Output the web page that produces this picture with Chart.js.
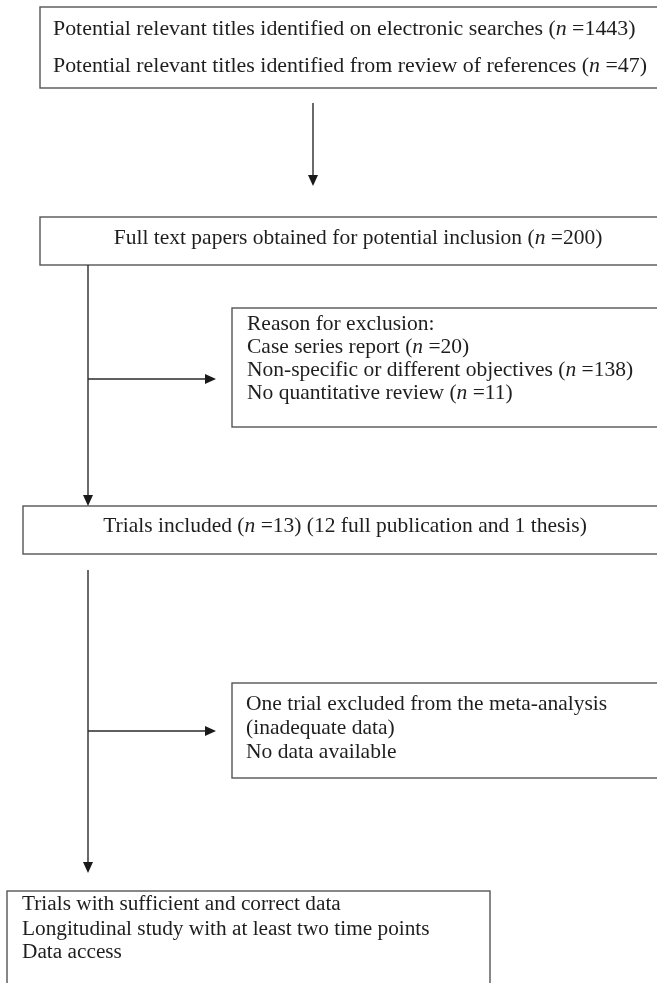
<!DOCTYPE html>
<html lang="en">
<head>
<meta charset="UTF-8">
<title>Flow diagram of trial selection</title>
<script src="https://cdn.jsdelivr.net/npm/chart.js"></script>
<style>
body { margin: 0; background: #fff; }
#wrap { width: 657px; height: 983px; }
</style>
</head>
<body>
<div id="wrap"><canvas id="chart" width="657" height="983"></canvas></div>
<script>
// counts and labels
const searchLabels = ['Potential relevant titles identified on electronic searches', 'Potential relevant titles identified from review of references'];
const searchCounts = [1443, 47];
const fullTextLabel = 'Full text papers obtained for potential inclusion';
const fullTextCount = 200;
const exclusionTitle = 'Reason for exclusion:';
const exclusionReasons = ['Case series report', 'Non-specific or different objectives', 'No quantitative review'];
const exclusionCounts = [20, 138, 11];
const includedLabel = 'Trials included';
const includedCount = 13;
const includedDetail = '(12 full publication and 1 thesis)';
const metaExcluded = ['One trial excluded from the meta-analysis', '(inadequate data)', 'No data available'];
const criteria = ['Trials with sufficient and correct data', 'Longitudinal study with at least two time points', 'Data access'];

// text line with an italic n: "label (n =123)"
function nLine(label, n, after) {
    return [{ t: label + ' (' }, { t: 'n', i: true }, { t: ' =' + n + ')' + (after || '') }];
}
function plain(s) { return [{ t: s }]; }

const boxTexts = [
    searchLabels.map((s, k) => nLine(s, searchCounts[k])),
    [nLine(fullTextLabel, fullTextCount)],
    [plain(exclusionTitle)].concat(exclusionReasons.map((s, k) => nLine(s, exclusionCounts[k]))),
    [nLine(includedLabel, includedCount, ' ' + includedDetail)],
    metaExcluded.map(plain),
    criteria.map(plain)
];

// geometry of the diagram (in figure units, mapped through the scales)
const boxLayout = [
    { x0: 40, y0: 7, x1: 672, y1: 88, align: 'left', tx: 53, ty: [35, 72], size: 21.9 },
    { x0: 40, y0: 217, x1: 676, y1: 265, align: 'center', tx: 358, ty: [244], size: 21.5 },
    { x0: 232, y0: 308, x1: 672, y1: 427, align: 'left', tx: 247, ty: [330, 353, 376, 399], size: 21.5 },
    { x0: 23, y0: 506, x1: 672, y1: 554, align: 'center', tx: 345, ty: [532], size: 21.5 },
    { x0: 232, y0: 683, x1: 672, y1: 778, align: 'left', tx: 246, ty: [710, 734, 758], size: 21.5 },
    { x0: 7, y0: 891, x1: 490, y1: 995, align: 'left', tx: 22, ty: [910, 935, 958], size: 21.3 }
];
const connectors = [
    { from: [313, 103], to: [313, 186], arrow: true },
    { from: [88, 265], to: [88, 506], arrow: true },
    { from: [88, 379], to: [216, 379], arrow: true },
    { from: [88, 570], to: [88, 873], arrow: true },
    { from: [88, 731], to: [216, 731], arrow: true }
];

const FONT = '"Liberation Serif", "Times New Roman", serif';

const flowPlugin = {
    id: 'flow',
    afterDraw(chart) {
        const ctx = chart.ctx;
        const xs = chart.scales.x, ys = chart.scales.y;
        const px = v => xs.getPixelForValue(v);
        const py = v => ys.getPixelForValue(v);
        ctx.save();

        // boxes
        ctx.strokeStyle = '#555';
        ctx.lineWidth = 1.4;
        boxLayout.forEach(b => {
            ctx.strokeRect(px(b.x0), py(b.y0), px(b.x1) - px(b.x0), py(b.y1) - py(b.y0));
        });

        // connectors
        ctx.strokeStyle = '#2a2a2a';
        ctx.fillStyle = '#1a1a1a';
        ctx.lineWidth = 1.4;
        connectors.forEach(c => {
            const x1 = px(c.from[0]), y1 = py(c.from[1]);
            const x2 = px(c.to[0]), y2 = py(c.to[1]);
            const ang = Math.atan2(y2 - y1, x2 - x1);
            const len = 11, half = 5;
            ctx.beginPath();
            ctx.moveTo(x1, y1);
            ctx.lineTo(x2 - Math.cos(ang) * len * 0.6, y2 - Math.sin(ang) * len * 0.6);
            ctx.stroke();
            if (c.arrow) {
                ctx.beginPath();
                ctx.moveTo(x2, y2);
                ctx.lineTo(x2 - Math.cos(ang) * len - Math.sin(ang) * half, y2 - Math.sin(ang) * len + Math.cos(ang) * half);
                ctx.lineTo(x2 - Math.cos(ang) * len + Math.sin(ang) * half, y2 - Math.sin(ang) * len - Math.cos(ang) * half);
                ctx.closePath();
                ctx.fill();
            }
        });

        // text
        ctx.fillStyle = '#1e1e1e';
        ctx.textBaseline = 'alphabetic';
        ctx.textAlign = 'left';
        boxTexts.forEach((lines, bi) => {
            const b = boxLayout[bi];
            const fontOf = seg => (seg.i ? 'italic ' : '') + b.size + 'px ' + FONT;
            lines.forEach((segs, li) => {
                let w = 0;
                segs.forEach(s => { ctx.font = fontOf(s); w += ctx.measureText(s.t).width; });
                let x = b.align === 'center' ? px(b.tx) - w / 2 : px(b.tx);
                const y = py(b.ty[li]);
                segs.forEach(s => {
                    ctx.font = fontOf(s);
                    ctx.fillText(s.t, x, y);
                    x += ctx.measureText(s.t).width;
                });
            });
        });
        ctx.restore();
    }
};

new Chart(document.getElementById('chart').getContext('2d'), {
    type: 'scatter',
    data: { datasets: [{ data: [], pointRadius: 0 }] },
    options: {
        responsive: false,
        animation: false,
        layout: { padding: 0 },
        plugins: { legend: { display: false }, tooltip: { enabled: false } },
        scales: {
            x: { type: 'linear', min: 0, max: 657, display: false },
            y: { type: 'linear', min: 0, max: 983, reverse: true, display: false }
        }
    },
    plugins: [flowPlugin]
});
</script>
</body>
</html>
